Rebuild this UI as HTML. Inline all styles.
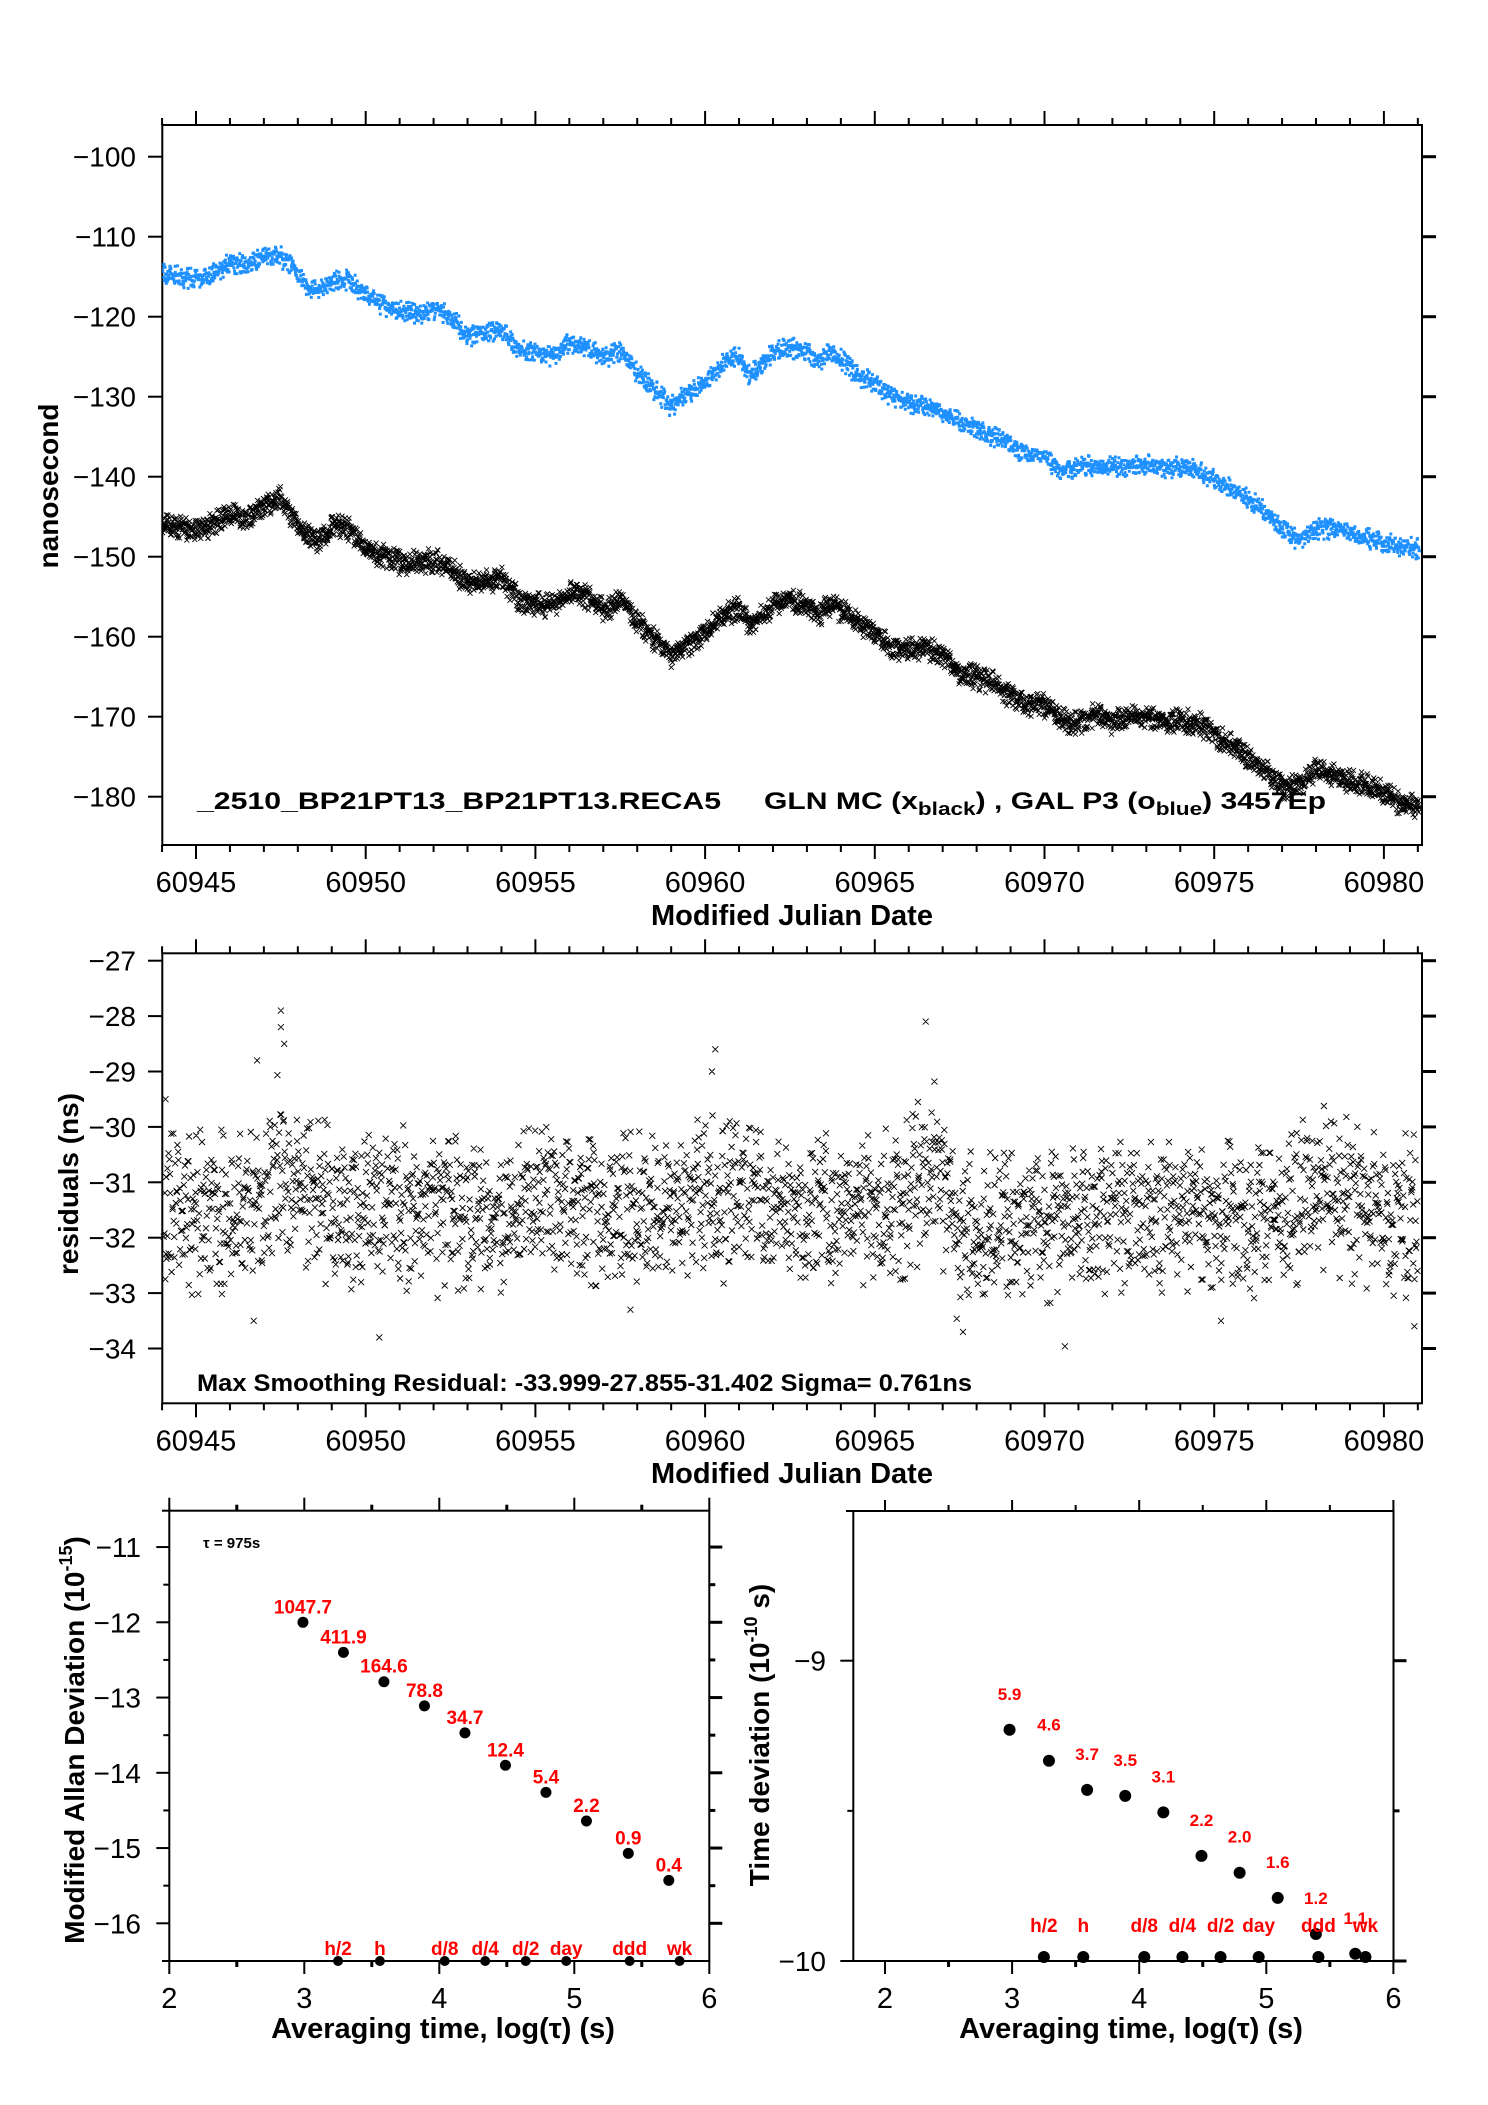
<!DOCTYPE html>
<html><head><meta charset="utf-8"><title>Clock comparison</title>
<style>
html,body{margin:0;padding:0;background:#fff;}
svg{display:block;font-family:"Liberation Sans",Arial,sans-serif;}
</style></head>
<body>
<svg id="chart" width="1488" height="2105" viewBox="0 0 1488 2105" xmlns="http://www.w3.org/2000/svg">
<rect x="0" y="0" width="1488" height="2105" fill="#fff"/>
<g id="g-top"></g>
<g id="g-mid"></g>
<g id="g-adev"></g>
<g id="g-tdev"></g>

<text x="197" y="809" font-size="24" font-weight="bold" textLength="524" lengthAdjust="spacingAndGlyphs">_2510_BP21PT13_BP21PT13.RECA5</text>
<text x="764" y="809" font-size="24" font-weight="bold" textLength="562" lengthAdjust="spacingAndGlyphs">GLN MC (x<tspan font-size="18" dy="6">black</tspan><tspan dy="-6">) ,  GAL P3 (o</tspan><tspan font-size="18" dy="6">blue</tspan><tspan dy="-6">)  3457Ep</tspan></text>
<text x="792" y="925" font-size="29" font-weight="bold" text-anchor="middle">Modified Julian Date</text>
<text transform="translate(58,486) rotate(-90)" font-size="28" font-weight="bold" text-anchor="middle">nanosecond</text>

<text x="197" y="1391" font-size="24" font-weight="bold" textLength="775" lengthAdjust="spacingAndGlyphs">Max Smoothing Residual: -33.999-27.855-31.402  Sigma= 0.761ns</text>
<text x="792" y="1483" font-size="29" font-weight="bold" text-anchor="middle">Modified Julian Date</text>
<text transform="translate(78,1184) rotate(-90)" font-size="28" font-weight="bold" text-anchor="middle">residuals (ns)</text>

<text x="203" y="1548" font-size="15" font-weight="bold">τ = 975s</text>
<text x="443" y="2038" font-size="29" font-weight="bold" text-anchor="middle">Averaging time, log(τ) (s)</text>
<text transform="translate(84,1740) rotate(-90)" font-size="28" font-weight="bold" text-anchor="middle">Modified Allan Deviation (10<tspan font-size="18" dy="-12">-15</tspan><tspan dy="12">)</tspan></text>
<text x="1131" y="2038" font-size="29" font-weight="bold" text-anchor="middle">Averaging time, log(τ) (s)</text>
<text transform="translate(769,1735) rotate(-90)" font-size="28" font-weight="bold" text-anchor="middle">Time deviation (10<tspan font-size="18" dy="-12">-10</tspan><tspan dy="12"> s)</tspan></text>
</svg>
<script>
// ---------- data: top time-series ----------
const tsDays = [60944,60945,60945.5,60946,60946.5,60947,60947.5,60948,60948.3,60948.6,60949.1,60949.5,60950,60950.5,60951,60951.5,60952,60952.5,60953,60953.5,60954,60954.5,60955,60955.5,60956,60956.5,60957,60957.5,60958,60958.5,60959,60959.5,60960,60960.5,60961,60961.3,60961.7,60962,60962.5,60963,60963.3,60963.7,60964,60964.5,60965,60965.5,60966,60966.5,60967,60967.5,60968,60968.5,60969,60969.5,60970,60970.5,60971,60971.5,60972,60972.5,60973,60973.5,60974,60974.5,60975,60975.5,60976,60976.5,60977,60977.5,60978,60978.5,60979,60979.5,60980,60980.5,60981];
const glnBlack = [-146.1,-146.5,-146,-144.7,-145.4,-143.7,-142.7,-146.1,-147.5,-147.9,-146.1,-146.5,-149,-149.9,-150.7,-150.7,-150.4,-151.4,-153.5,-153.2,-152.5,-155.3,-156,-156,-154.6,-154.9,-156.7,-155.3,-158.1,-160.2,-162.3,-160.9,-159.5,-157.4,-156.3,-158.4,-157.4,-156,-155.3,-156,-157.4,-156,-156.7,-158.1,-159.5,-161.6,-161.6,-161.2,-162.6,-164.4,-165.1,-165.8,-167.5,-168.6,-168.6,-170.4,-170.7,-169.7,-170.7,-170,-170,-170.4,-170.4,-170.7,-172.1,-173.5,-174.9,-176.7,-178.8,-178.5,-176.7,-177.1,-178.1,-178.5,-179.5,-180.9,-181.3];
const galBlue = [-114.6,-115.3,-114.6,-113.2,-113.5,-112.5,-112.5,-114.6,-116.3,-116.7,-115.6,-115.3,-117.4,-118.5,-119.2,-119.7,-119,-120,-122.4,-122.1,-121.7,-124.2,-124.5,-124.9,-123.1,-123.8,-125.2,-124.2,-127,-129.1,-131.2,-129.5,-128.3,-125.9,-124.9,-127.4,-125.9,-124.5,-123.8,-124.5,-125.6,-124.5,-125.2,-127.4,-128.1,-130,-130.7,-131.1,-132.1,-133.2,-134.2,-134.9,-136.3,-137,-137.4,-139.5,-138.8,-138.5,-138.8,-138.8,-138.5,-138.8,-138.8,-139.2,-140.2,-141.6,-142.7,-144.4,-146.5,-148,-146.5,-146.5,-147.2,-147.6,-148.3,-148.6,-149];
const topYTicks = [-100,-110,-120,-130,-140,-150,-160,-170,-180];
const mjdTicks = [60945,60950,60955,60960,60965,60970,60975,60980];

// ---------- data: residuals ----------
const resDays = [60944,60945,60946,60947,60947.5,60948,60949,60950,60951,60952,60953,60954,60955,60956,60957,60958,60959,60960,60961,60962,60963,60964,60965,60966,60966.8,60967.5,60968,60969,60970,60971,60972,60973,60974,60975,60976,60977,60978,60979,60980,60981];
const resMean = [-31.6,-31.5,-31.5,-31.4,-30.6,-31.4,-31.3,-31.5,-31.4,-31.6,-31.5,-31.6,-31.3,-31.4,-31.5,-31.4,-31.6,-31.2,-31.4,-31.5,-31.5,-31.4,-31.5,-31.2,-30.6,-32.0,-31.9,-31.8,-31.8,-31.7,-31.6,-31.6,-31.6,-31.5,-31.7,-31.7,-31.0,-31.3,-31.5,-31.6];
const resSpread = [0.6,0.6,0.6,0.6,0.8,0.6,0.6,0.6,0.6,0.6,0.55,0.55,0.55,0.55,0.55,0.55,0.55,0.6,0.6,0.55,0.55,0.55,0.55,0.6,0.6,0.65,0.6,0.55,0.55,0.55,0.55,0.55,0.55,0.55,0.55,0.55,0.6,0.6,0.6,0.6];
const resOutDays = [60947.5,60947.5,60947.6,60946.8,60966.5,60960.3,60960.2,60950.4,60970.6,60967.6,60946.7,60957.8,60944.1,60975.2,60980.9];
const resOutVals = [-27.9,-28.2,-28.5,-28.8,-28.1,-28.6,-29.0,-33.8,-33.96,-33.7,-33.5,-33.3,-29.5,-33.5,-33.6];
const resYTicks = [-27,-28,-29,-30,-31,-32,-33,-34];

// ---------- data: modified Allan deviation ----------
const adevLogTau = [2.99,3.29,3.59,3.89,4.19,4.49,4.79,5.09,5.40,5.70];
const adevLog = [-12.0,-12.4,-12.79,-13.11,-13.47,-13.9,-14.26,-14.64,-15.07,-15.43];
const adevLabels = ["1047.7","411.9","164.6","78.8","34.7","12.4","5.4","2.2","0.9","0.4"];
const markLogTau = [3.25,3.56,4.04,4.34,4.64,4.94,5.41,5.78];
const markLabels = ["h/2","h","d/8","d/4","d/2","day","ddd","wk"];
const adevYTicks = [-11,-12,-13,-14,-15,-16];
const logTicks = [2,3,4,5,6];

// ---------- data: time deviation ----------
const tdevLogTau = [2.98,3.29,3.59,3.89,4.19,4.49,4.79,5.09,5.39,5.70];
const tdevLog = [-9.23,-9.333,-9.43,-9.45,-9.505,-9.65,-9.706,-9.79,-9.91,-9.976];
const tdevLabels = ["5.9","4.6","3.7","3.5","3.1","2.2","2.0","1.6","1.2","1.1"];
const tdevYTicks = [-9,-10];

// ---------- helpers ----------
const NS = "http://www.w3.org/2000/svg";
function mk(tag, parent, attrs){const e=document.createElementNS(NS,tag);for(const k in attrs)e.setAttribute(k,attrs[k]);parent.appendChild(e);return e;}
function interp(xs, ys, x){if(x<=xs[0])return ys[0];for(let i=1;i<xs.length;i++){if(x<=xs[i]){const t=(x-xs[i-1])/(xs[i]-xs[i-1]);return ys[i-1]+t*(ys[i]-ys[i-1]);}}return ys[ys.length-1];}
// marker scatter texture (visual styling only)
const texture = [0.12,-0.85,1.31,-0.27,0.64,-1.52,0.03,0.91,-0.48,1.78,-1.11,0.37,-0.69,0.22,-1.93,1.05,-0.15,0.58,-0.96,1.44,-0.33,0.79,-1.27,0.08,2.1,-0.61,0.46,-1.68,0.99,-0.05,-0.42,1.21,-0.88,0.31,-2.2,0.71,-0.19,1.6,-1.02,0.5,-0.74,0.17,-1.36,1.12,-0.56,0.27,-0.09,0.86,-1.58,0.42,1.95,-0.35,0.66,-1.15,0.04,-0.79,1.38,-0.23,0.55,-1.45,0.93];
function mix(i, salt){
  let h = (Math.imul(i, 374761393) + Math.imul(salt + 1, 668265263)) | 0;
  h = Math.imul(h ^ (h >>> 13), 1274126177);
  h ^= h >>> 16;
  h = Math.imul(h ^ (h >>> 15), 2246822519);
  h ^= h >>> 13;
  return h >>> 0;
}
function tex(i, salt){ return texture[mix(i, salt) % texture.length]; }
function jit(i, salt){ return (mix(i, salt + 50) % 1000) / 1000 - 0.5; }

const xMJD = d => 196 + (d - 60945) * 33.94;
const yTop = v => 156.7 + (-100 - v) * 8;
const yRes = v => 960.7 + (-27 - v) * 55.4;
const xAd = v => 169.3 + (v - 2) * 135;
const yAd = v => 1622.3 + (-12 - v) * 75.25;
const xTd = v => 885 + (v - 2) * 127.1;
const yTd = v => 1660.7 + (-9 - v) * 300.3;

function frame(g, x0, y0, x1, y1, name){
  const r = mk('rect', g, {x:x0,y:y0,width:x1-x0,height:y1-y0,fill:'none',stroke:'#000','stroke-width':2});
  
  
}
function tick(g, x1, y1, x2, y2, w){
  const l = mk('line', g, {x1:x1,y1:y1,x2:x2,y2:y2,stroke:'#000','stroke-width':w||2});
  
  
}
function label(g, x, y, s, size, anchor, name, color, bold){
  const t = mk('text', g, {x:x,y:y,'font-size':size,'text-anchor':anchor||'middle',fill:color||'#000'});
  if(bold) t.setAttribute('font-weight','bold');
  t.textContent = s;
  
  
  return t;
}

// ---------- MJD panels (top and middle) ----------
function mjdAxes(g, top, bottom, yTicks, yMap){
  frame(g, 162.3, top, 1422, bottom, 'plot-frame');
  for(let d=60944; d<=60981; d++){
    const major = (d % 5 === 0);
    const len = major ? 14 : 7;
    tick(g, xMJD(d), top, xMJD(d), top - len);
    tick(g, xMJD(d), bottom, xMJD(d), bottom + len);
  }
  mjdTicks.forEach(d => {
    label(g, xMJD(d), bottom + 47, String(d), 29, 'middle', 'x-tick-label');
  });
  yTicks.forEach(v => {
    const y = yMap(v);
    tick(g, 162.3, y, 148, y);
    tick(g, 1422, y, 1436, y, 3);
    label(g, 136, y + 10, '\u2212' + String(-v), 28, 'end', 'y-tick-label');
  });
}

const gTop = document.getElementById('g-top');
mjdAxes(gTop, 125, 845, topYTicks, yTop);
(function(){
  const clipTop = mk('clipPath', gTop, {id:'clipTop'});
  mk('rect', clipTop, {x:162.3,y:125,width:1259.7,height:720});
  let dBlue = '', dBlack = '';
  let i = 0;
  for(let d=60944; d<=60981.05; d+=0.011, i++){
    const xb = xMJD(d + 0.012*jit(i,1));
    const xk = xMJD(d + 0.012*jit(i,2));
    const vb = interp(tsDays, galBlue, d) + 0.6 * tex(i, 1);
    const vk = interp(tsDays, glnBlack, d) + 0.7 * tex(i, 2);
    const yb = yTop(vb), yk = yTop(vk);
    dBlue += 'M' + (xb-1.5).toFixed(1) + ' ' + (yb-1.5).toFixed(1) + 'h3v3h-3z';
    dBlack += 'M' + (xk-2.5).toFixed(1) + ' ' + (yk-2.5).toFixed(1) + 'l5 5M' + (xk+2.5).toFixed(1) + ' ' + (yk-2.5).toFixed(1) + 'l-5 5';
  }
  const pb = mk('path', gTop, {d:dBlue, fill:'#1e90ff', 'clip-path':'url(#clipTop)'});
  
  
  const pk = mk('path', gTop, {d:dBlack, stroke:'#000', 'stroke-width':0.9, fill:'none', 'clip-path':'url(#clipTop)'});
  
  
})();

const gMid = document.getElementById('g-mid');
mjdAxes(gMid, 953.3, 1403.3, resYTicks, yRes);
(function(){
  let dd = '';
  let i = 0;
  for(let d=60944.05; d<=60981; d+=0.014, i++){
    const m = interp(resDays, resMean, d);
    const s = interp(resDays, resSpread, d);
    const v = m + 1.15 * s * tex(i, 3);
    const x = xMJD(d + 0.02*jit(i,4));
    const y = yRes(v);
    dd += 'M' + (x-3).toFixed(1) + ' ' + (y-3).toFixed(1) + 'l6 6M' + (x+3).toFixed(1) + ' ' + (y-3).toFixed(1) + 'l-6 6';
  }
  resOutDays.forEach((d, j) => {
    const x = xMJD(d), y = yRes(resOutVals[j]);
    dd += 'M' + (x-3).toFixed(1) + ' ' + (y-3).toFixed(1) + 'l6 6M' + (x+3).toFixed(1) + ' ' + (y-3).toFixed(1) + 'l-6 6';
  });
  const p = mk('path', gMid, {d:dd, stroke:'#000', 'stroke-width':0.9, fill:'none'});
  
  
})();

// ---------- Allan deviation panel ----------
const gAd = document.getElementById('g-adev');
frame(gAd, 169.3, 1510.7, 709.3, 1961, 'adev-frame');
tick(gAd, 162, 1961, 169.3, 1961);
tick(gAd, 162, 1510.7, 169.3, 1510.7);
for(let v=2; v<=6.001; v+=0.5){
  const major = Number.isInteger(v);
  tick(gAd, xAd(v), 1961, xAd(v), 1961 + (major?13:6), major?2:3);
  tick(gAd, xAd(v), 1510.7, xAd(v), 1510.7 - (major?13:6), major?2:3);
}
logTicks.forEach(v => label(gAd, xAd(v), 2008, String(v), 29, 'middle', 'x-tick-label'));
for(let v=-11; v>=-16; v-=0.5){
  const major = Number.isInteger(v);
  tick(gAd, 169.3, yAd(v), 169.3 - (major?13:6), yAd(v));
  tick(gAd, 709.3, yAd(v), 709.3 + (major?13:6), yAd(v), 3);
}
adevYTicks.forEach(v => label(gAd, 141, yAd(v) + 10, '\u2212' + String(-v), 28, 'end', 'y-tick-label'));
adevLogTau.forEach((t, i) => {
  const c = mk('circle', gAd, {cx:xAd(t), cy:yAd(adevLog[i]), r:5.5, fill:'#000'});
  
  
  label(gAd, xAd(t), yAd(adevLog[i]) - 9, adevLabels[i], 19, 'middle', 'adev-value-label', '#ff0000', true);
});
markLogTau.forEach((t, i) => {
  const c = mk('circle', gAd, {cx:xAd(t), cy:1961, r:5, fill:'#000'});
  
  
  label(gAd, xAd(t), 1955, markLabels[i], 19, 'middle', 'interval-label', '#ff0000', true);
});

// ---------- Time deviation panel ----------
const gTd = document.getElementById('g-tdev');
frame(gTd, 853.3, 1511, 1393.5, 1961, 'tdev-frame');
tick(gTd, 846, 1511, 853.3, 1511);
tick(gTd, 1393.5, 1961, 1403, 1961);
for(let v=2; v<=6.001; v+=0.5){
  const major = Number.isInteger(v);
  tick(gTd, xTd(v), 1961, xTd(v), 1961 + (major?13:6), major?2:3);
  tick(gTd, xTd(v), 1511, xTd(v), 1511 - (major?11:6), 2);
}
logTicks.forEach(v => label(gTd, xTd(v), 2008, String(v), 29, 'middle', 'x-tick-label'));
[-9,-9.5,-10].forEach(v => {
  const major = Number.isInteger(v);
  tick(gTd, 853.3, yTd(v), 853.3 - (major?13:6), yTd(v));
  tick(gTd, 1393.5, yTd(v), 1393.5 + (major?13:6), yTd(v), 3);
});
tdevYTicks.forEach(v => label(gTd, 826, yTd(v) + 10, '\u2212' + String(-v), 28, 'end', 'y-tick-label'));
tdevLogTau.forEach((t, i) => {
  const c = mk('circle', gTd, {cx:xTd(t), cy:yTd(tdevLog[i]), r:6, fill:'#000'});
  
  
  label(gTd, xTd(t), yTd(tdevLog[i]) - 30, tdevLabels[i], 17, 'middle', 'tdev-value-label', '#ff0000', true);
});
markLogTau.forEach((t, i) => {
  const c = mk('circle', gTd, {cx:xTd(t), cy:1957, r:6, fill:'#000'});
  
  
  label(gTd, xTd(t), 1932, markLabels[i], 19, 'middle', 'interval-label', '#ff0000', true);
});
</script>
</body></html>
